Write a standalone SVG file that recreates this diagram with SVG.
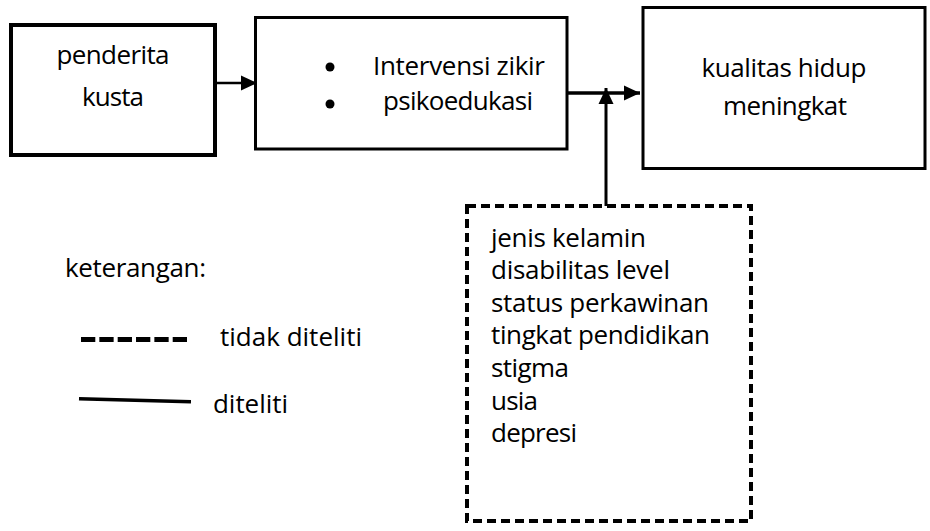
<svg xmlns="http://www.w3.org/2000/svg" width="930" height="531" viewBox="0 0 930 531">
<style>
.t{font-family:"Open Sans","Noto Sans","Liberation Sans",sans-serif;font-size:26px;fill:#000}
.box{fill:#fff;stroke:#000}
.c{text-anchor:middle}
.ln{stroke:#000;fill:none}
</style>
<defs>
<marker id="ah" markerUnits="userSpaceOnUse" markerWidth="16" markerHeight="16" viewBox="0 0 16 16" refX="16" refY="8" orient="auto">
<path d="M0,0.5 L16,8 L0,15.5 Z" fill="#000"/>
</marker>
</defs>
<rect width="930" height="531" fill="#fff"/>
<g id="n1">
<rect class="box" x="11" y="25" width="204" height="130" stroke-width="4"/>
<text class="t c" x="113" y="64" textLength="113">penderita</text>
<text class="t c" x="113" y="106" textLength="62">kusta</text>
</g>
<g id="n2">
<rect class="box" x="255.5" y="17.5" width="311.5" height="131.5" stroke-width="3"/>
<circle cx="330" cy="67" r="4.5"/>
<circle cx="330" cy="104" r="4.5"/>
<text class="t c" x="459" y="75" textLength="172">Intervensi zikir</text>
<text class="t c" x="458" y="110" textLength="150">psikoedukasi</text>
</g>
<g id="n3">
<rect class="box" x="643" y="7.5" width="282" height="161" stroke-width="3"/>
<text class="t c" x="784" y="77" textLength="165">kualitas hidup</text>
<text class="t c" x="785" y="115" textLength="124">meningkat</text>
</g>
<g id="n4">
<rect x="467" y="206" width="284" height="315" fill="none" stroke="#000" stroke-width="4" stroke-dasharray="9 5"/>
<text class="t" x="491" y="247" textLength="155">jenis kelamin</text>
<text class="t" x="491" y="279" textLength="179">disabilitas level</text>
<text class="t" x="491" y="312" textLength="218">status perkawinan</text>
<text class="t" x="491" y="344" textLength="219">tingkat pendidikan</text>
<text class="t" x="491" y="377" textLength="78">stigma</text>
<text class="t" x="491" y="410" textLength="47">usia</text>
<text class="t" x="491" y="442" textLength="86">depresi</text>
</g>
<g id="legend">
<text class="t" x="65" y="277" textLength="141">keterangan:</text>
<line class="ln" x1="81" y1="339.5" x2="187" y2="339.5" stroke-width="5" stroke-dasharray="14.3 4.04"/>
<text class="t" x="220" y="346" textLength="142">tidak diteliti</text>
<line class="ln" x1="79" y1="398.7" x2="191" y2="401.7" stroke-width="3.5"/>
<text class="t" x="213" y="413" textLength="75">diteliti</text>
</g>
<g id="connectors">
<line class="ln" x1="217" y1="83" x2="257" y2="83" stroke-width="2.5" marker-end="url(#ah)"/>
<line class="ln" x1="567" y1="93" x2="640" y2="93" stroke-width="3.5" marker-end="url(#ah)"/>
<line class="ln" x1="606" y1="206" x2="606" y2="88" stroke-width="3" marker-end="url(#ah)"/>
</g>
</svg>
